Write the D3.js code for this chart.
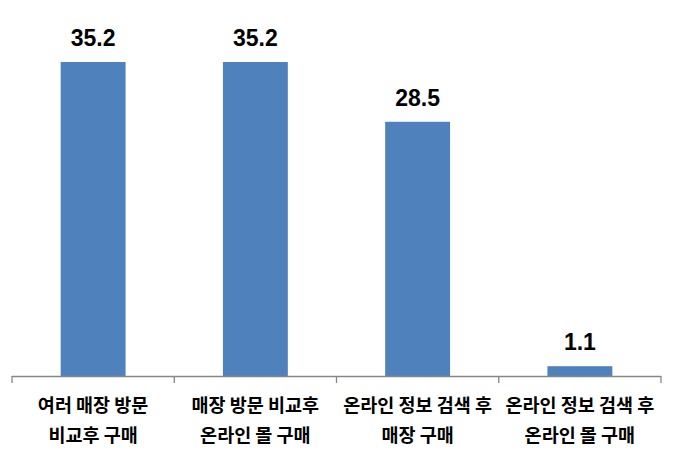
<!DOCTYPE html>
<html>
<head>
<meta charset="utf-8">
<script src="https://cdn.jsdelivr.net/npm/d3@7"></script>
<style>
  body { margin: 0; background: #fff; }
  svg { display: block; }
</style>
</head>
<body>
<div id="chart"></div>
<script>
// chart data
var categories = [
  ["여러 매장 방문", "비교후 구매"],
  ["매장 방문 비교후", "온라인 몰 구매"],
  ["온라인 정보 검색 후", "매장 구매"],
  ["온라인 정보 검색 후", "온라인 몰 구매"]
];
var values = [35.2, 35.2, 28.5, 1.1];

var width = 677,
    height = 464;

var svg = d3.select("#chart").append("svg")
    .attr("width", width)
    .attr("height", height);

var x = d3.scaleBand()
    .domain(d3.range(categories.length))
    .range([12, 661])
    .paddingInner(0.6)
    .paddingOuter(0.3);

var y = d3.scaleLinear()
    .domain([0, 40])
    .range([376, 19.2]);

// bars
svg.selectAll("rect.bar")
    .data(values)
  .enter().append("rect")
    .attr("class", "bar")
    .attr("x", function(d, i) { return x(i); })
    .attr("y", function(d) { return y(d); })
    .attr("width", x.bandwidth())
    .attr("height", function(d) { return y(0) - y(d); })
    .style("fill", "#4f81bd");

// value labels
svg.selectAll("text.value")
    .data(values)
  .enter().append("text")
    .attr("class", "value")
    .attr("x", function(d, i) { return x(i) + x.bandwidth() / 2; })
    .attr("y", function(d) { return y(d) - 16; })
    .attr("text-anchor", "middle")
    .style("font-family", "Liberation Sans, Arial, sans-serif")
    .style("font-weight", "bold")
    .style("font-size", "23px")
    .style("fill", "#000")
    .text(function(d) { return d.toFixed(1); });

// axis line + ticks at band edges
var edges = d3.range(categories.length + 1).map(function(i) { return 12 + i * (649 / categories.length); });

svg.append("line")
    .attr("x1", 12).attr("x2", 661)
    .attr("y1", y(0) + 0.5).attr("y2", y(0) + 0.5)
    .style("stroke", "#868686")
    .style("stroke-width", 1.3);

svg.selectAll("line.tick")
    .data(edges)
  .enter().append("line")
    .attr("class", "tick")
    .attr("x1", function(d) { return d; })
    .attr("x2", function(d) { return d; })
    .attr("y1", y(0))
    .attr("y2", y(0) + 7)
    .style("stroke", "#868686")
    .style("stroke-width", 1.3);

// category labels, two lines each
var catLabel = svg.selectAll("text.cat")
    .data(categories)
  .enter().append("text")
    .attr("class", "cat")
    .attr("text-anchor", "middle")
    .style("font-family", "Noto Sans CJK KR, sans-serif")
    .style("font-weight", "bold")
    .style("font-size", "18.5px")
    .style("fill", "#000");

catLabel.selectAll("tspan")
    .data(function(d, i) { return d.map(function(s) { return {s: s, i: i}; }); })
  .enter().append("tspan")
    .attr("x", function(d) { return x(d.i) + x.bandwidth() / 2; })
    .attr("y", function(d, j) { return 412 + j * 29.5; })
    .text(function(d) { return d.s; });
</script>
</body>
</html>
